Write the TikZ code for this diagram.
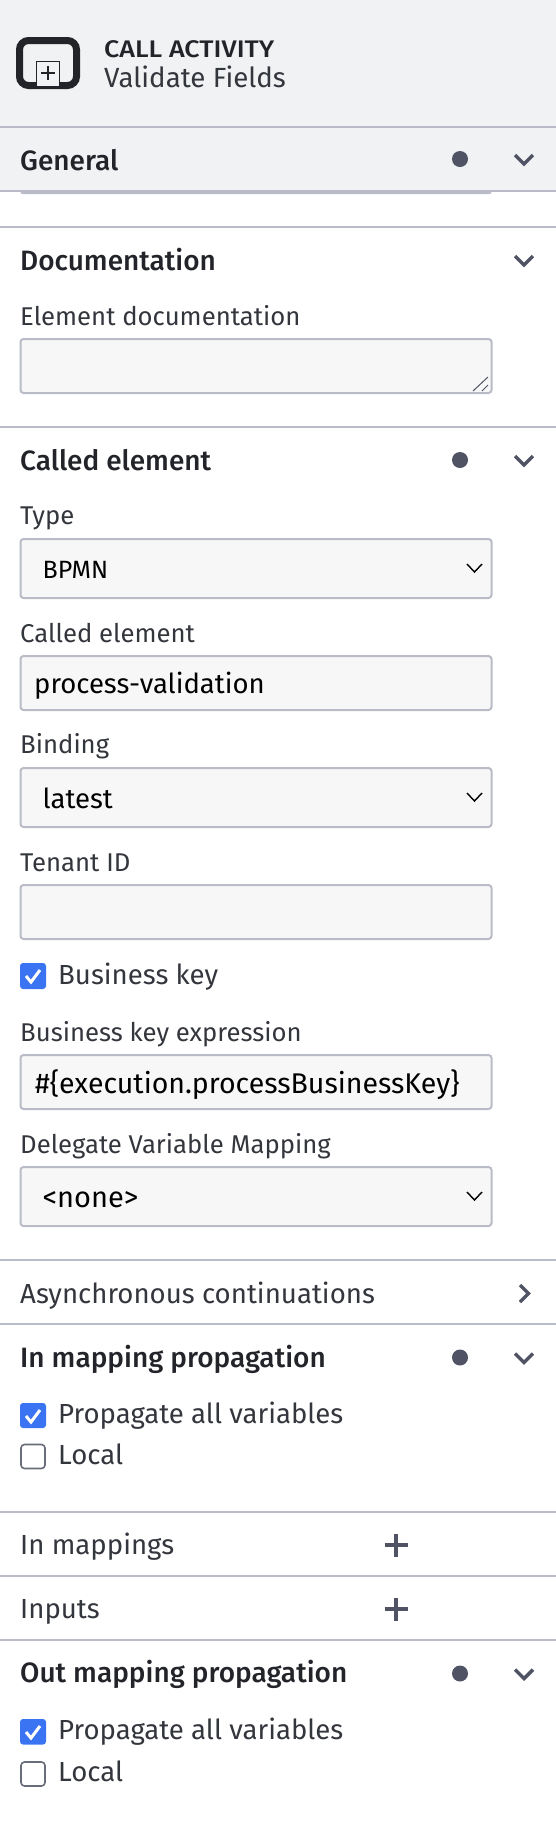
\documentclass[tikz,border=0pt]{standalone}
\usepackage{fontspec}
\setmainfont{Fira Sans}
\newfontfamily\headfont{Fira Sans Medium}
\newfontfamily\titlefont[FakeStretch=1.12]{Fira Sans Medium}
\usetikzlibrary{positioning}
\definecolor{panelbg}{HTML}{F1F2F4}
\definecolor{rulec}{HTML}{B9BCC6}
\definecolor{fieldbg}{HTML}{F7F7F8}
\definecolor{iconc}{HTML}{4F5363}
\definecolor{inkc}{HTML}{22242A}
\definecolor{labelc}{HTML}{34363D}
\definecolor{tickbg}{HTML}{3A74F2}

\begin{document}
\begin{tikzpicture}[x=1pt,y=-1pt,
    txt/.style={anchor=base west,inner sep=0pt,text=inkc},
    heading/.style={txt,font=\headfont\fontsize{28}{33}\selectfont},
    lbl/.style={txt,text=labelc,font=\fontsize{25.7}{30}\selectfont},
    rowlbl/.style={txt,text=labelc,font=\fontsize{27.6}{32}\selectfont},
    val/.style={txt,text=black,font=\fontsize{27.5}{32}\selectfont},
    sep/.style={draw=rulec,line width=2pt},
    field/.style={draw=rulec,fill=fieldbg,line width=2pt,rounded corners=3pt},
    chev/.style={draw=iconc,line width=3.5pt},
    selchev/.style={draw=black,line width=1.4pt},
    dot/.style={circle,fill=iconc,minimum size=16pt,inner sep=0pt},
    tickon/.style={fill=tickbg,rounded corners=3pt},
    tickoff/.style={draw=iconc!85,fill=white,line width=1.6pt,rounded corners=3.5pt},
    tick/.style={draw=white,line width=3pt},
    plusmark/.style={draw=iconc,line width=3.5pt}]
    \useasboundingbox (0,0) rectangle (556,1824);
    \fill[white] (0,0) rectangle (556,1824);

    % header
    \fill[panelbg] (0,0) rectangle (556,191);
    \draw[draw=inkc,fill=panelbg,line width=7pt,rounded corners=9pt] (19.5,40.5) rectangle (76.5,85.5);
    \draw[draw=inkc,fill=panelbg,line width=1pt] (36.5,86) -- (36.5,61.5) -- (59.5,61.5) -- (59.5,86);
    \draw[draw=inkc,line width=2pt] (41,73) -- (55,73) (48,66) -- (48,80);
    \node[txt,font=\titlefont\fontsize{24}{28}\selectfont] (kind) at (104,57) {CALL ACTIVITY};
    \node[txt,text=labelc,font=\fontsize{27.7}{32}\selectfont] (name) at (104,87) {Validate Fields};
    \draw[sep] (0,127) -- (556,127);

    % general
    \node[heading] (general) at (20,170) {General};
    \node[dot] (dotgeneral) at (460,159) {};
    \draw[chev] (515,155) -- (524,164) -- (533,155);
    \fill[rulec,rounded corners=2pt] (20.5,190) rectangle (491.5,194);
    \draw[sep] (0,191) -- (556,191);
    \draw[sep] (0,227) -- (556,227);

    % documentation
    \node[heading] (documentation) at (20,270) {Documentation};
    \draw[chev] (515,256) -- (524,265) -- (533,256);
    \node[lbl] (docl) at (20,325) {Element documentation};
    \draw[field] (20.5,339) rectangle (491.5,393);
    \draw[draw=iconc,line width=1pt] (473,391) -- (488,377) (482,391) -- (488,385);
    \draw[sep] (0,427) -- (556,427);

    % called element
    \node[heading] (called) at (20,470) {Called element};
    \node[dot] (dotcalled) at (460,460) {};
    \draw[chev] (515,456) -- (524,465) -- (533,456);
    \node[lbl] (typel) at (20,524) {Type};
    \draw[field] (20.5,539) rectangle (491.5,598);
    \node[val,font=\fontsize{25}{30}\selectfont] (typev) at (42.5,578) {BPMN};
    \draw[selchev] (467,564) -- (474.5,572) -- (482,564);
    \node[lbl] (calledl) at (20,642) {Called element};
    \draw[field] (20.5,656) rectangle (491.5,710);
    \node[val] (calledv) at (34,693) {process-validation};
    \node[lbl] (bindingl) at (20,753) {Binding};
    \draw[field] (20.5,768) rectangle (491.5,827);
    \node[val] (bindingv) at (42.5,808) {latest};
    \draw[selchev] (467,793) -- (474.5,801) -- (482,793);
    \node[lbl] (tenantl) at (20,871) {Tenant ID};
    \draw[field] (20.5,885) rectangle (491.5,939);
    \fill[tickon] (20,963) rectangle (46,989);
    \draw[tick] (26,976) -- (31,982) -- (40,970);
    \node[rowlbl] (keyl) at (58,984) {Business key};
    \node[lbl] (exprl) at (20,1041) {Business key expression};
    \draw[field] (20.5,1055) rectangle (491.5,1109);
    \node[val,font=\fontsize{28.5}{33}\selectfont] (exprv) at (35,1093) {\#\{execution.processBusinessKey\}};
    \node[lbl] (delegatel) at (20,1153) {Delegate Variable Mapping};
    \draw[field] (20.5,1167) rectangle (491.5,1226);
    \node[val,font=\fontsize{29}{34}\selectfont] (delegatev) at (42.5,1207) {<none>};
    \draw[selchev] (467,1192) -- (474.5,1200) -- (482,1192);
    \draw[sep] (0,1260) -- (556,1260);

    % asynchronous continuations
    \node[rowlbl] (async) at (20,1303) {Asynchronous continuations};
    \draw[chev] (520,1285) -- (528.5,1293.5) -- (520,1302);
    \draw[sep] (0,1324) -- (556,1324);

    % in mapping propagation
    \node[heading] (inprop) at (20,1367) {In mapping propagation};
    \node[dot] (dotin) at (460,1357.5) {};
    \draw[chev] (515,1353.5) -- (524,1362.5) -- (533,1353.5);
    \fill[tickon] (20,1403) rectangle (46,1428);
    \draw[tick] (26,1416) -- (31,1422) -- (40,1410);
    \node[rowlbl] (inall) at (58,1423) {Propagate all variables};
    \draw[tickoff] (21,1444.5) rectangle (45,1468.5);
    \node[rowlbl] (inlocal) at (58,1464.5) {Local};
    \draw[sep] (0,1512) -- (556,1512);

    % in mappings, inputs
    \node[rowlbl] (inmaps) at (20,1554.5) {In mappings};
    \draw[plusmark] (384.5,1545) -- (407.5,1545) (396,1533.5) -- (396,1556.5);
    \draw[sep] (0,1575.5) -- (556,1575.5);
    \node[rowlbl] (inputs) at (20,1618) {Inputs};
    \draw[plusmark] (384.5,1609) -- (407.5,1609) (396,1597.5) -- (396,1620.5);
    \draw[sep] (0,1640) -- (556,1640);

    % out mapping propagation
    \node[heading] (outprop) at (20,1682.5) {Out mapping propagation};
    \node[dot] (dotout) at (460,1673.5) {};
    \draw[chev] (515,1669.5) -- (524,1678.5) -- (533,1669.5);
    \fill[tickon] (20,1719) rectangle (46,1744.5);
    \draw[tick] (26,1732) -- (31,1738) -- (40,1726);
    \node[rowlbl] (outall) at (58,1739) {Propagate all variables};
    \draw[tickoff] (21,1762) rectangle (45,1786);
    \node[rowlbl] (outlocal) at (58,1781) {Local};
\end{tikzpicture}
\end{document}
